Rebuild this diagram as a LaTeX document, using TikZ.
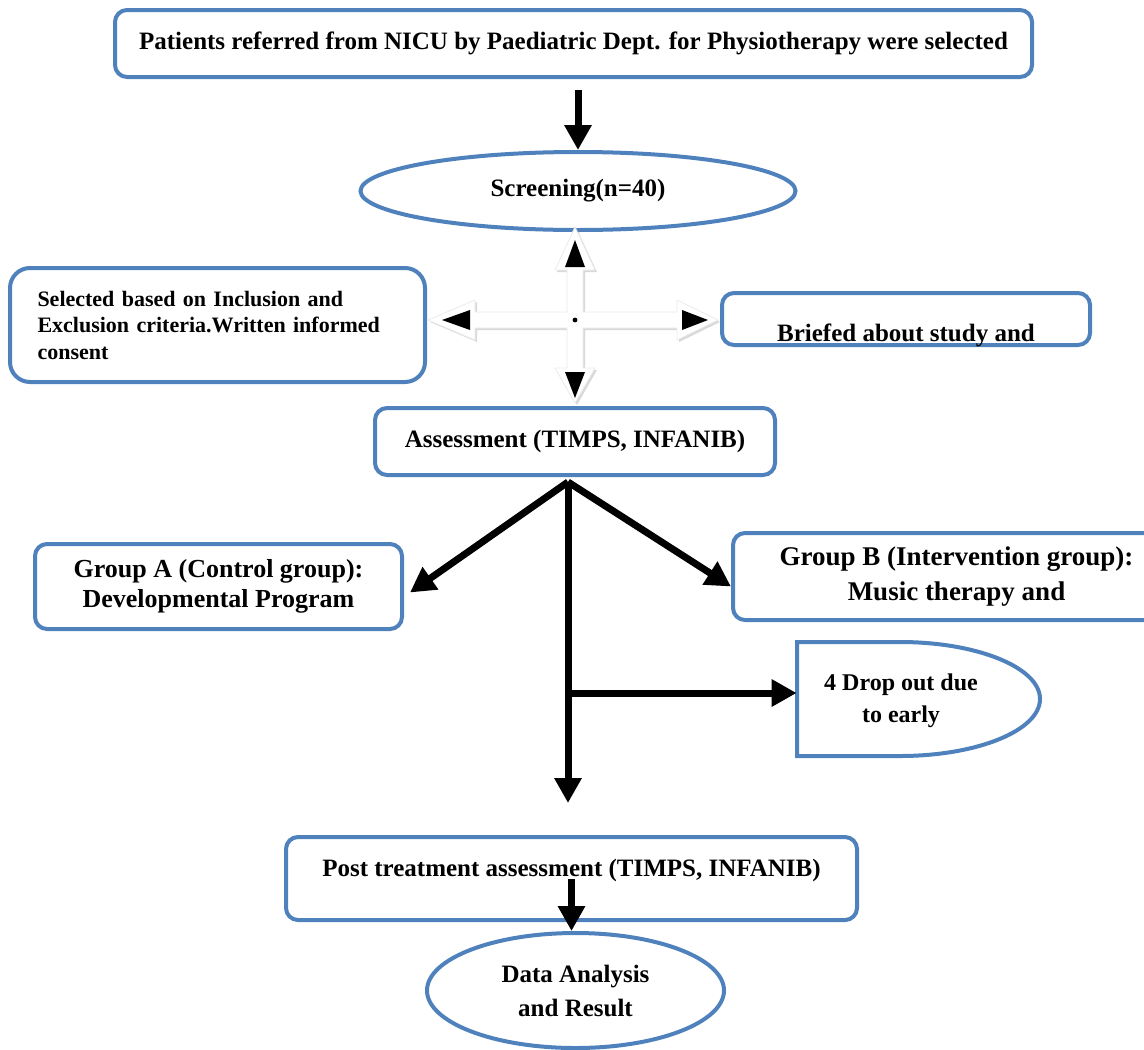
\documentclass[tikz,border=0pt]{standalone}
\usepackage{fontspec}
\setmainfont{Liberation Serif}
\usetikzlibrary{shapes.geometric,arrows.meta,shadows}
\definecolor{flowblue}{HTML}{4F81BD}
\tikzstyle{box}=[rectangle,rounded corners=6pt,draw=flowblue,line width=2pt,fill=white,inner sep=0pt,align=center,font=\bfseries\fontsize{12.5}{15}\selectfont]
\tikzstyle{oval}=[ellipse,draw=flowblue,line width=2pt,fill=white,inner sep=0pt,align=center,font=\bfseries\fontsize{12.5}{17}\selectfont]
\tikzstyle{arrow}=[-{Triangle[length=12.5pt,width=13pt]},line width=3.5pt]

\begin{document}
\begin{tikzpicture}[x=0.5pt,y=-0.5pt]
\useasboundingbox (0,0) rectangle (1144,1049);
\node[box,minimum width=458.5pt,minimum height=33.5pt] at (573.5, 43.5) (patients) {Patients referred from NICU by Paediatric Dept. for Physiotherapy were selected};
\node[oval,minimum width=217.5pt,minimum height=39pt] at (578, 191) (screening) {Screening(n=40)};
\node[box,rounded corners=10pt,minimum width=207.5pt,minimum height=57pt,text width=180pt,align=left,font=\bfseries\fontsize{11}{13.25}\selectfont] at (217.5, 325) (criteria) {Selected based on Inclusion and\\Exclusion criteria.Written informed\\consent};
\node[box,minimum width=184pt,minimum height=26pt,text height=22pt,text depth=0pt] at (906, 319) (briefed) {Briefed about study and};
\node[box,minimum width=200pt,minimum height=33.5pt] at (575, 441.5) (assessment) {Assessment (TIMPS, INFANIB)};
\node[box,minimum width=183.5pt,minimum height=42.5pt,font=\bfseries\fontsize{13}{15}\selectfont] at (218.5, 586.5) (groupA) {Group A (Control group):\\Developmental Program};
\node[box,minimum width=223.5pt,minimum height=43.5pt,font=\bfseries\fontsize{13.5}{17.5}\selectfont] at (956.5, 576.5) (groupB) {Group B (Intervention group):\\Music therapy and};
\node[minimum width=104pt,minimum height=57pt,inner sep=0pt,align=center,font=\bfseries\fontsize{12}{16}\selectfont] at (901, 701) (dropout) {4 Drop out due\\to early};
\draw[flowblue,line width=2pt] (797, 756) -- (797, 642) -- (900, 642) .. controls (977, 642) and (1040, 667.5) .. (1040, 699) .. controls (1040, 730.5) and (977, 756) .. (900, 756) -- cycle;
\node[box,minimum width=285.5pt,minimum height=41.5pt,text depth=11pt] at (571.5, 878.5) (post) {Post treatment assessment (TIMPS, INFANIB)};
\node[oval,minimum width=148.5pt,minimum height=57.5pt] at (575.5, 990.5) (analysis) {Data Analysis\\and Result};

\coordinate (hub) at (575, 320);
\fill[white,draw=black!8,line width=0.4pt,drop shadow={shadow xshift=1pt,shadow yshift=-1pt,opacity=0.3}] (575, 227) -- (595, 270) -- (583, 270) -- (583, 312) -- (677, 312) -- (677, 300) -- (718, 320) -- (677, 340) -- (677, 328) -- (583, 328) -- (583, 368) -- (595, 368) -- (575, 403) -- (555, 368) -- (567, 368) -- (567, 328) -- (475, 328) -- (475, 340) -- (428, 320) -- (475, 300) -- (475, 312) -- (567, 312) -- (567, 270) -- (555, 270) -- cycle;
\fill (575, 240) -- (565, 267) -- (585, 267) -- cycle;
\fill (575, 398) -- (565, 372) -- (585, 372) -- cycle;
\fill (442, 320) -- (470, 310) -- (470, 330) -- cycle;
\fill (708, 320) -- (682, 310) -- (682, 330) -- cycle;
\fill (hub) circle (1.2pt);

\draw[arrow,shorten <=5.5pt] (screening.north |- patients.south) -- (screening.north);
\coordinate (split) at (568, 482);
\draw[arrow] (split) -- ([shift={(6,6)}]groupA.east);
\draw[arrow] (split) -- ([shift={(0,10)}]groupB.west);
\draw[arrow,shorten >=16pt] (split) -- (split |- post.north);
\coordinate (branch) at (568, 693);
\draw[arrow] (branch) -- (branch -| dropout.west);
\draw[arrow] (post.center) -- (post.center |- analysis.north);
\end{tikzpicture}
\end{document}
